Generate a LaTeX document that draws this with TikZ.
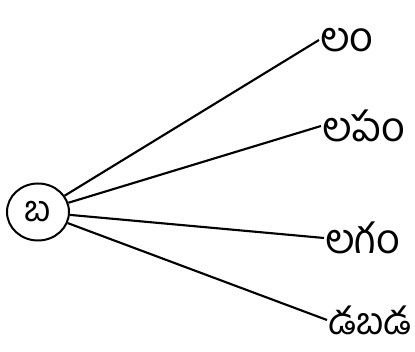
\documentclass[tikz,border=0pt]{standalone}
\usepackage{fontspec}
\usetikzlibrary{shapes.geometric}
\newfontfamily\telugufont[Script=Telugu]{Hind Guntur}

\tikzset{
  root/.style={draw, ellipse, line width=1.5pt, minimum width=46.5pt, minimum height=42.75pt, inner sep=0pt, font=\telugufont\fontsize{27}{30}\selectfont},
  leaf/.style={anchor=west, inner sep=0pt, font=\telugufont\fontsize{31}{34}\selectfont},
}

\begin{document}
\begin{tikzpicture}[x=0.75pt, y=-0.75pt, line width=1.6pt]
    \useasboundingbox (0,0) rectangle (415,352);

    % ముఖ్య అక్షరం
    \node[root] (ba) at (38,212) {బ};

    % పదాలు
    \node[leaf] (w1) at (319,40) {లం};
    \node[leaf] (w2) at (321,126) {లపం};
    \node[leaf] (w3) at (324,238) {లగం};
    \node[leaf, font=\telugufont\fontsize{28}{30}\selectfont] (w4) at (327,320) {డబడ};

    % గీతలు
    \draw (ba) -- (w1.west);
    \draw (ba) -- (w2.west);
    \draw (ba) -- (w3.west);
    \draw (ba) -- (w4.west);
\end{tikzpicture}
\end{document}
